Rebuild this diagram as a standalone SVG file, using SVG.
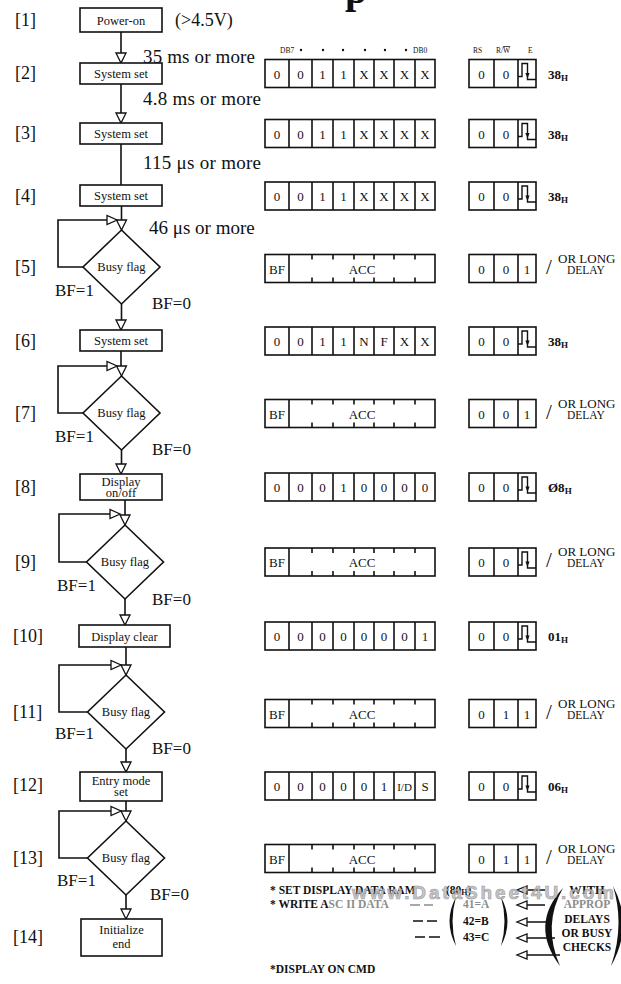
<svg xmlns="http://www.w3.org/2000/svg" xmlns:xlink="http://www.w3.org/1999/xlink" width="621" height="984" viewBox="0 0 621 984">
<style>
  text{font-family:"Liberation Serif","Times New Roman",serif;fill:#111}
  .ln{fill:none;stroke:#111;stroke-width:1.6}
  .box{fill:#fff;stroke:#111;stroke-width:1.6}
  .lbl{font-size:18px}
  .t{font-size:19px}
  .bx{font-size:12.5px;text-anchor:middle}
  .c{font-size:13px;text-anchor:middle}
  .hd{font-size:7.5px}
  .bf{font-size:17px}
  .hx{font-size:13px;font-weight:bold}
  .or{font-size:13px}
  .dl{font-size:11.5px}
  .sl{font-size:21px}
  .nt{font-size:11.5px;font-weight:bold}
  .gr{fill:#8c8c8c}
</style>
<defs>
  <g id="r8" fill="#fff" stroke="#111" stroke-width="1.6">
    <rect x="265" y="0" width="170" height="28"/>
    <path d="M289,0V28M312,0V28M333,0V28M354,0V28M374,0V28M394,0V28M415,0V28" fill="none"/>
  </g>
  <g id="rbf" fill="#fff" stroke="#111" stroke-width="1.6">
    <rect x="265" y="0" width="170" height="28"/>
    <path d="M289,0V28M312,0v5M333,0v5M354,0v5M374,0v5M394,0v5M415,0v5M312,28v-5M333,28v-5M354,28v-5M374,28v-5M394,28v-5M415,28v-5" fill="none"/>
  </g>
  <g id="rs" fill="#fff" stroke="#111" stroke-width="1.6">
    <rect x="469" y="0" width="67" height="28"/>
    <path d="M494,0V28M518,0V28" fill="none"/>
  </g>
  <g id="pl">
    <path d="M518,17H522V4H527.5V20H536" fill="none" stroke="#111" stroke-width="1.4"/>
    <polygon points="525.4,13.5 529.6,13.5 527.5,19" fill="#111"/>
  </g>
  <polygon id="ad" points="-5,-10 5,-10 0,0" fill="#fff" stroke="#111" stroke-width="1.3"/>
  <polygon id="ar" points="-10,-4.5 -10,4.5 0,0" fill="#fff" stroke="#111" stroke-width="1.3"/>
  <polygon id="al" points="10,-4 10,4 0,0" fill="#fff" stroke="#111" stroke-width="1.3"/>
  <polygon id="dm" points="0,-37 38.5,0 0,37 -38.5,0" fill="#fff" stroke="#111" stroke-width="1.6"/>
</defs>
<rect width="621" height="984" fill="#fff"/>

<!-- partially visible title glyph -->
<text x="345" y="3" style="font-size:40px;font-weight:bold">p</text>

<!-- connectors -->
<g id="connectors">
  <path class="ln" d="M121,32V53"/>
  <use xlink:href="#ad" x="121" y="63"/>
  <path class="ln" d="M121,84V113"/>
  <use xlink:href="#ad" x="121" y="123"/>
  <path class="ln" d="M121,144V185"/>
  <path class="ln" d="M121.5,206V220"/>
  <use xlink:href="#ad" x="121.5" y="230"/>
  <path class="ln" d="M83,267H58V220H108"/>
  <use xlink:href="#ar" x="117" y="220"/>
  <path class="ln" d="M121.5,304V320"/>
  <use xlink:href="#ad" x="121" y="330"/>
  <path class="ln" d="M121,351V366"/>
  <use xlink:href="#ad" x="121.5" y="376"/>
  <path class="ln" d="M83,413H58V366H108"/>
  <use xlink:href="#ar" x="117" y="366"/>
  <path class="ln" d="M121.5,450V464"/>
  <use xlink:href="#ad" x="121" y="474"/>
  <path class="ln" d="M125,500V515"/>
  <use xlink:href="#ad" x="125" y="525"/>
  <path class="ln" d="M86.5,562H59V514H111"/>
  <use xlink:href="#ar" x="120" y="514"/>
  <path class="ln" d="M125,599V615"/>
  <use xlink:href="#ad" x="125" y="625"/>
  <path class="ln" d="M126,647V665"/>
  <use xlink:href="#ad" x="126" y="675"/>
  <path class="ln" d="M87.5,712H59V665H112"/>
  <use xlink:href="#ar" x="121" y="665"/>
  <path class="ln" d="M126,749V762"/>
  <use xlink:href="#ad" x="126" y="772"/>
  <path class="ln" d="M126,801V811"/>
  <use xlink:href="#ad" x="126" y="821"/>
  <path class="ln" d="M87.5,858H59V811H112"/>
  <use xlink:href="#ar" x="121" y="811"/>
  <path class="ln" d="M126,895V909"/>
  <use xlink:href="#ad" x="126" y="919"/>
</g>

<!-- flow nodes -->
<g id="step1">
  <text class="lbl" x="15" y="26">[1]</text>
  <rect class="box" x="80" y="8" width="82" height="24"/>
  <text class="bx" x="121" y="24.5">Power-on</text>
  <text class="t" x="175" y="26" style="font-size:18px">(&gt;4.5V)</text>
</g>
<text class="t" x="143" y="63" textLength="112">35 ms or more</text>
<g id="step2">
  <text class="lbl" x="15" y="79">[2]</text>
  <rect class="box" x="80" y="63" width="82" height="21"/>
  <text class="bx" x="121" y="78">System set</text>
</g>
<text class="t" x="143" y="105" textLength="118">4.8 ms or more</text>
<g id="step3">
  <text class="lbl" x="15" y="139">[3]</text>
  <rect class="box" x="80" y="123" width="82" height="21"/>
  <text class="bx" x="121" y="138">System set</text>
</g>
<text class="t" x="143" y="169" textLength="118">115 μs or more</text>
<g id="step4">
  <text class="lbl" x="15" y="202">[4]</text>
  <rect class="box" x="80" y="185" width="82" height="21"/>
  <text class="bx" x="121" y="200">System set</text>
</g>
<text class="t" x="149" y="234">46 μs or more</text>
<g id="step5">
  <text class="lbl" x="15" y="273">[5]</text>
  <use xlink:href="#dm" x="121.5" y="267"/>
  <text class="bx" x="121.5" y="271">Busy flag</text>
  <text class="bf" x="55" y="296">BF=1</text>
  <text class="bf" x="152" y="309">BF=0</text>
</g>
<g id="step6">
  <text class="lbl" x="15" y="347">[6]</text>
  <rect class="box" x="80" y="330" width="82" height="21"/>
  <text class="bx" x="121" y="345">System set</text>
</g>
<g id="step7">
  <text class="lbl" x="15" y="419">[7]</text>
  <use xlink:href="#dm" x="121.5" y="413"/>
  <text class="bx" x="121.5" y="417">Busy flag</text>
  <text class="bf" x="55" y="442">BF=1</text>
  <text class="bf" x="152" y="455">BF=0</text>
</g>
<g id="step8">
  <text class="lbl" x="15" y="493">[8]</text>
  <rect class="box" x="80" y="474" width="82" height="26"/>
  <text class="bx" x="121" y="485.5">Display</text>
  <text class="bx" x="121" y="497">on/off</text>
</g>
<g id="step9">
  <text class="lbl" x="15" y="568">[9]</text>
  <use xlink:href="#dm" x="125" y="562"/>
  <text class="bx" x="125" y="566">Busy flag</text>
  <text class="bf" x="57" y="591">BF=1</text>
  <text class="bf" x="152" y="605">BF=0</text>
</g>
<g id="step10">
  <text class="lbl" x="13" y="642">[10]</text>
  <rect class="box" x="79" y="625" width="91" height="22"/>
  <text class="bx" x="124.5" y="640.5">Display clear</text>
</g>
<g id="step11">
  <text class="lbl" x="13" y="718">[11]</text>
  <use xlink:href="#dm" x="126" y="712"/>
  <text class="bx" x="126" y="716">Busy flag</text>
  <text class="bf" x="55" y="739">BF=1</text>
  <text class="bf" x="152" y="754">BF=0</text>
</g>
<g id="step12">
  <text class="lbl" x="13" y="791">[12]</text>
  <rect class="box" x="80" y="772" width="82" height="29"/>
  <text class="bx" x="121" y="784.5">Entry mode</text>
  <text class="bx" x="121" y="796">set</text>
</g>
<g id="step13">
  <text class="lbl" x="13" y="864">[13]</text>
  <use xlink:href="#dm" x="126" y="858"/>
  <text class="bx" x="126" y="862">Busy flag</text>
  <text class="bf" x="57" y="886">BF=1</text>
  <text class="bf" x="150" y="900">BF=0</text>
</g>
<g id="step14">
  <text class="lbl" x="13" y="943">[14]</text>
  <rect class="box" x="81" y="919" width="81" height="37"/>
  <text class="bx" x="121.5" y="934">Initialize</text>
  <text class="bx" x="121.5" y="948">end</text>
</g>

<!-- header -->
<g id="header">
  <text class="hd" x="280" y="53">DB7</text>
  <g fill="#111"><circle cx="301" cy="50" r="1.2"/><circle cx="323" cy="50" r="1.2"/><circle cx="343" cy="50" r="1.2"/><circle cx="365" cy="50" r="1.2"/><circle cx="385" cy="50" r="1.2"/><circle cx="406" cy="50" r="1.2"/></g>
  <text class="hd" x="413" y="53">DB0</text>
  <text class="hd" x="473" y="53">RS</text>
  <text class="hd" x="496" y="53">R/<tspan style="text-decoration:overline">W</tspan></text>
  <text class="hd" x="528" y="53">E</text>
</g>

<!-- register rows -->
<g id="reg2" transform="translate(0,59.5)">
  <use xlink:href="#r8"/><use xlink:href="#rs"/><use xlink:href="#pl"/>
  <text class="c" y="19"><tspan x="277">0</tspan><tspan x="300.5">0</tspan><tspan x="322.5">1</tspan><tspan x="343.5">1</tspan><tspan x="364">X</tspan><tspan x="384">X</tspan><tspan x="404.5">X</tspan><tspan x="425">X</tspan><tspan x="481.5">0</tspan><tspan x="506">0</tspan></text>
  <text class="hx" x="548" y="19">38<tspan style="font-size:9px" dy="2">H</tspan></text>
</g>
<g id="reg3" transform="translate(0,119.5)">
  <use xlink:href="#r8"/><use xlink:href="#rs"/><use xlink:href="#pl"/>
  <text class="c" y="19"><tspan x="277">0</tspan><tspan x="300.5">0</tspan><tspan x="322.5">1</tspan><tspan x="343.5">1</tspan><tspan x="364">X</tspan><tspan x="384">X</tspan><tspan x="404.5">X</tspan><tspan x="425">X</tspan><tspan x="481.5">0</tspan><tspan x="506">0</tspan></text>
  <text class="hx" x="548" y="19">38<tspan style="font-size:9px" dy="2">H</tspan></text>
</g>
<g id="reg4" transform="translate(0,182)">
  <use xlink:href="#r8"/><use xlink:href="#rs"/><use xlink:href="#pl"/>
  <text class="c" y="19"><tspan x="277">0</tspan><tspan x="300.5">0</tspan><tspan x="322.5">1</tspan><tspan x="343.5">1</tspan><tspan x="364">X</tspan><tspan x="384">X</tspan><tspan x="404.5">X</tspan><tspan x="425">X</tspan><tspan x="481.5">0</tspan><tspan x="506">0</tspan></text>
  <text class="hx" x="548" y="19">38<tspan style="font-size:9px" dy="2">H</tspan></text>
</g>
<g id="reg5" transform="translate(0,254.5)">
  <use xlink:href="#rbf"/><use xlink:href="#rs"/>
  <text class="c" y="19"><tspan x="277">BF</tspan><tspan x="362">ACC</tspan><tspan x="481.5">0</tspan><tspan x="506">0</tspan><tspan x="527">1</tspan></text>
  <text class="sl" x="546" y="19">/</text>
  <text class="or" x="558" y="8">OR LONG</text>
  <text class="dl" x="567" y="19">DELAY</text>
</g>
<g id="reg6" transform="translate(0,327)">
  <use xlink:href="#r8"/><use xlink:href="#rs"/><use xlink:href="#pl"/>
  <text class="c" y="19"><tspan x="277">0</tspan><tspan x="300.5">0</tspan><tspan x="322.5">1</tspan><tspan x="343.5">1</tspan><tspan x="364">N</tspan><tspan x="384">F</tspan><tspan x="404.5">X</tspan><tspan x="425">X</tspan><tspan x="481.5">0</tspan><tspan x="506">0</tspan></text>
  <text class="hx" x="548" y="19">38<tspan style="font-size:9px" dy="2">H</tspan></text>
</g>
<g id="reg7" transform="translate(0,399.5)">
  <use xlink:href="#rbf"/><use xlink:href="#rs"/>
  <text class="c" y="19"><tspan x="277">BF</tspan><tspan x="362">ACC</tspan><tspan x="481.5">0</tspan><tspan x="506">0</tspan><tspan x="527">1</tspan></text>
  <text class="sl" x="546" y="19">/</text>
  <text class="or" x="558" y="8">OR LONG</text>
  <text class="dl" x="567" y="19">DELAY</text>
</g>
<g id="reg8" transform="translate(0,473)">
  <use xlink:href="#r8"/><use xlink:href="#rs"/><use xlink:href="#pl"/>
  <text class="c" y="19"><tspan x="277">0</tspan><tspan x="300.5">0</tspan><tspan x="322.5">0</tspan><tspan x="343.5">1</tspan><tspan x="364">0</tspan><tspan x="384">0</tspan><tspan x="404.5">0</tspan><tspan x="425">0</tspan><tspan x="481.5">0</tspan><tspan x="506">0</tspan></text>
  <text class="hx" x="548" y="19">Ø8<tspan style="font-size:9px" dy="2">H</tspan></text>
</g>
<g id="reg9" transform="translate(0,548)">
  <use xlink:href="#rbf"/><use xlink:href="#rs"/><use xlink:href="#pl"/>
  <text class="c" y="19"><tspan x="277">BF</tspan><tspan x="362">ACC</tspan><tspan x="481.5">0</tspan><tspan x="506">0</tspan></text>
  <text class="sl" x="546" y="19">/</text>
  <text class="or" x="558" y="8">OR LONG</text>
  <text class="dl" x="567" y="19">DELAY</text>
</g>
<g id="reg10" transform="translate(0,622)">
  <use xlink:href="#r8"/><use xlink:href="#rs"/><use xlink:href="#pl"/>
  <text class="c" y="19"><tspan x="277">0</tspan><tspan x="300.5">0</tspan><tspan x="322.5">0</tspan><tspan x="343.5">0</tspan><tspan x="364">0</tspan><tspan x="384">0</tspan><tspan x="404.5">0</tspan><tspan x="425">1</tspan><tspan x="481.5">0</tspan><tspan x="506">0</tspan></text>
  <text class="hx" x="548" y="19">01<tspan style="font-size:9px" dy="2">H</tspan></text>
</g>
<g id="reg11" transform="translate(0,699.5)">
  <use xlink:href="#rbf"/><use xlink:href="#rs"/>
  <text class="c" y="19"><tspan x="277">BF</tspan><tspan x="362">ACC</tspan><tspan x="481.5">0</tspan><tspan x="506">1</tspan><tspan x="527">1</tspan></text>
  <text class="sl" x="546" y="19">/</text>
  <text class="or" x="558" y="8">OR LONG</text>
  <text class="dl" x="567" y="19">DELAY</text>
</g>
<g id="reg12" transform="translate(0,772)">
  <use xlink:href="#r8"/><use xlink:href="#rs"/><use xlink:href="#pl"/>
  <text class="c" y="19"><tspan x="277">0</tspan><tspan x="300.5">0</tspan><tspan x="322.5">0</tspan><tspan x="343.5">0</tspan><tspan x="364">0</tspan><tspan x="384">1</tspan><tspan x="404.5" style="font-size:11px">I/D</tspan><tspan x="425">S</tspan><tspan x="481.5">0</tspan><tspan x="506">0</tspan></text>
  <text class="hx" x="548" y="19">06<tspan style="font-size:9px" dy="2">H</tspan></text>
</g>
<g id="reg13" transform="translate(0,844.5)">
  <use xlink:href="#rbf"/><use xlink:href="#rs"/>
  <text class="c" y="19"><tspan x="277">BF</tspan><tspan x="362">ACC</tspan><tspan x="481.5">0</tspan><tspan x="506">1</tspan><tspan x="527">1</tspan></text>
  <text class="sl" x="546" y="19">/</text>
  <text class="or" x="558" y="8">OR LONG</text>
  <text class="dl" x="567" y="19">DELAY</text>
</g>

<!-- bottom notes -->
<g id="notes">
  <text class="nt" x="270" y="894">* SET DISPLAY DATA RAM</text>
  <text class="nt" x="446" y="894">(80<tspan style="font-size:8px" dy="1">H</tspan><tspan dy="-1">)</tspan></text>
  <text class="nt" x="270" y="908">* WRITE A<tspan class="gr">SC II DATA</tspan></text>
  <text class="nt gr" x="463" y="908">41=A</text>
  <text class="nt" x="463" y="925">42=B</text>
  <text class="nt" x="463" y="941">43=C</text>
  <text class="nt" x="270" y="973">*DISPLAY ON CMD</text>
  <path d="M410,905h10M424,905h9" stroke="#8c8c8c" stroke-width="1.4"/>
  <path d="M413,921h10M427,921h10M415,937h10M429,937h11" stroke="#111" stroke-width="1.4"/>
  <path d="M456,897Q443,921 456,946Q449,921 456,897Z" fill="#111"/>
  <path d="M501,897Q514,921 501,946Q508,921 501,897Z" fill="#111"/>
  <path d="M527,890H545M527,905H545M527,922H547M527,938H555M527,955H560" stroke="#111" stroke-width="1.4"/>
  <use xlink:href="#al" x="517" y="890"/>
  <use xlink:href="#al" x="517" y="905"/>
  <use xlink:href="#al" x="517" y="922"/>
  <use xlink:href="#al" x="517" y="938"/>
  <use xlink:href="#al" x="517" y="955"/>
  <path d="M563,888Q529,925 560,966Q542,925 563,888Z" fill="#111"/>
  <path d="M613,886Q634,925 611,966Q625,925 613,886Z" fill="#111"/>
  <g class="nt" style="text-anchor:middle">
    <text x="587" y="894" style="font-size:12.5px">WITH</text>
    <text x="587" y="908" class="gr">APPROP</text>
    <text x="587" y="923">DELAYS</text>
    <text x="587" y="937">OR BUSY</text>
    <text x="587" y="951">CHECKS</text>
  </g>
  <text x="352" y="899" textLength="262" style="font-family:'Liberation Sans',Arial,sans-serif;font-size:19px;font-weight:bold;fill:#bdbdbd;stroke:#8a8a8a;stroke-width:0.6;opacity:0.85">www.DataSheet4U.com</text>
</g>
</svg>
